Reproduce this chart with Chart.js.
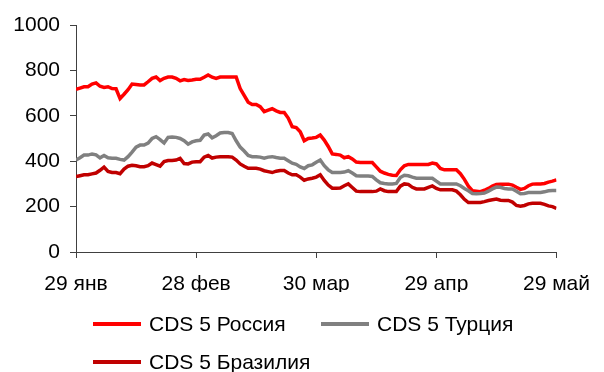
<!DOCTYPE html>
<html>
<head>
<meta charset="utf-8">
<script src="https://cdn.jsdelivr.net/npm/chart.js@4"></script>
<style>
  body { margin: 0; background: #fff; }
  #wrap { position: relative; width: 604px; height: 372px; }
  #legend { position: absolute; left: 0; top: 0; width: 604px; height: 372px; pointer-events: none;
            font-family: 'Liberation Sans', Arial, sans-serif; font-size: 21px; color: #000; }
  .item { position: absolute; height: 24px; line-height: 24px; white-space: nowrap; }
  .item span.line { position: absolute; left: 0; top: 10px; width: 48px; height: 4px; }
  .item span.txt { position: absolute; left: 56px; top: 0; }
</style>
</head>
<body>
<div id="wrap">
  <canvas id="cdsChart" width="604" height="372"></canvas>
  <div id="legend"></div>
</div>
<script>
// --- CDS 5 лет: Россия, Турция, Бразилия (ежедневно с 29 янв по 29 май) ---

const tickLabels = ['29 янв', '28 фев', '30 мар', '29 апр', '29 май']; // подписи каждые 30 дней

const seriesNames = ['CDS 5 Россия', 'CDS 5 Турция', 'CDS 5 Бразилия'];
const seriesColors = ['#ff0000', '#808080', '#c00000'];

// значения по дням (день 0 = 29 янв)
const russia = [
    716, 722, 728, 728, 740, 745, 730, 725, 728, 720,
    719, 676, 695, 715, 740, 738, 736, 736, 750, 765,
    771, 755, 765, 771, 771, 765, 754, 760, 756, 758,
    761, 761, 770, 780, 770, 765, 771, 771, 771, 771,
    771, 720, 690, 660, 650, 650, 640, 618, 625, 631,
    622, 615, 615, 590, 552, 548, 530, 490, 500, 502,
    505, 515, 493, 465, 432, 430, 427, 415, 420, 410,
    396, 394, 394, 394, 394, 375, 356, 348, 342, 338,
    337, 362, 380, 386, 386, 386, 386, 386, 386, 392,
    388, 368, 362, 362, 362, 362, 345, 320, 290, 270,
    268, 266, 272, 280, 290, 298, 299, 299, 299, 295,
    285, 276, 280, 292, 299, 300, 300, 302, 308, 312,
    318
];
const turkey = [
    405, 415, 427, 427, 432, 428, 415, 425, 415, 413,
    413, 408, 405, 420, 440, 462, 471, 471, 480, 500,
    508, 495, 480, 505, 507, 505, 500, 490, 475, 485,
    490, 492, 515, 520, 503, 512, 524, 526, 526, 522,
    490, 462, 445, 425, 420, 420, 418, 413, 418, 420,
    416, 413, 413, 402, 391, 386, 375, 368, 380, 384,
    395, 405, 380, 362, 350, 350, 350, 352, 358, 348,
    336, 335, 335, 335, 333, 318, 305, 302, 300, 300,
    302, 328, 338, 336, 330, 325, 325, 325, 325, 325,
    312, 300, 300, 300, 300, 300, 292, 280, 270, 258,
    257, 258, 260, 268, 278, 286, 285, 280, 278, 278,
    268, 257, 258, 262, 262, 262, 262, 265, 270, 271,
    271
];
const brazil = [
    332, 336, 340, 340, 344, 348, 360, 374, 355, 350,
    350, 345, 365, 378, 382, 380, 376, 376, 380, 392,
    385, 378, 398, 403, 403, 405, 412, 390, 388, 396,
    398, 398, 418, 425, 414, 418, 420, 420, 420, 418,
    405, 388, 378, 369, 369, 369, 365, 358, 354, 350,
    356, 359, 359, 348, 340, 340, 330, 316, 322, 325,
    330, 340, 315, 295, 281, 281, 282, 292, 300, 284,
    268, 266, 266, 266, 266, 268, 278, 270, 266, 266,
    266, 290, 300, 298, 285, 278, 278, 278, 285, 291,
    280, 274, 274, 274, 274, 268, 252, 232, 218, 218,
    218, 218, 222, 227, 230, 233, 228, 227, 227, 220,
    205, 202, 205, 212, 215, 215, 215, 210, 203, 200,
    192
];

const allSeries = [russia, turkey, brazil];

Chart.defaults.font.family = "'Liberation Sans', Arial, sans-serif";
Chart.defaults.font.size = 21;
Chart.defaults.color = '#000';

const axisColor = '#404040';

const ctx = document.getElementById('cdsChart').getContext('2d');
const cdsChart = new Chart(ctx, {
    type: 'line',
    data: {
        datasets: allSeries.map((vals, k) => ({
            label: seriesNames[k],
            data: vals.map((v, i) => ({ x: i, y: v })), // x = номер дня
            borderColor: seriesColors[k],
            backgroundColor: seriesColors[k],
            borderWidth: 3.5,
            pointRadius: 0,
            tension: 0,
            fill: false,
            order: 2 - k // Бразилия сверху, как в оригинале
        }))
    },
    options: {
        responsive: false,
        animation: false,
        events: [],
        layout: {
            padding: { left: 0, right: 46, top: 25, bottom: 80 }
        },
        plugins: {
            legend: { display: false }, // легенда ниже, отдельным блоком
            tooltip: { enabled: false }
        },
        scales: {
            x: {
                type: 'linear',
                min: 0,
                max: 120,
                afterFit: (scale) => { scale.height = 40; },
                ticks: {
                    stepSize: 30,
                    autoSkip: false,
                    maxRotation: 0,
                    padding: 14,
                    callback: (v) => tickLabels[v / 30]
                },
                grid: { drawOnChartArea: false, tickLength: 6, color: axisColor },
                border: { color: axisColor, width: 1 }
            },
            y: {
                min: 0,
                max: 1000,
                afterFit: (scale) => { scale.width = 76; },
                ticks: { stepSize: 200, padding: 10, callback: (v) => String(v) }, // без запятой
                grid: { drawOnChartArea: false, tickLength: 6, color: axisColor },
                border: { color: axisColor, width: 1 }
            }
        }
    }
});

// легенда: две строки, как в исходном графике
const legendPos = [
    { left: 93, top: 312 },
    { left: 321, top: 312 },
    { left: 93, top: 350 }
];
const legendBox = document.getElementById('legend');
seriesNames.forEach((name, k) => {
    const item = document.createElement('div');
    item.className = 'item';
    item.style.left = legendPos[k].left + 'px';
    item.style.top = legendPos[k].top + 'px';
    item.innerHTML = '<span class="line" style="background:' + seriesColors[k] + '"></span>' +
                     '<span class="txt">' + name + '</span>';
    legendBox.appendChild(item);
});
</script>
</body>
</html>
